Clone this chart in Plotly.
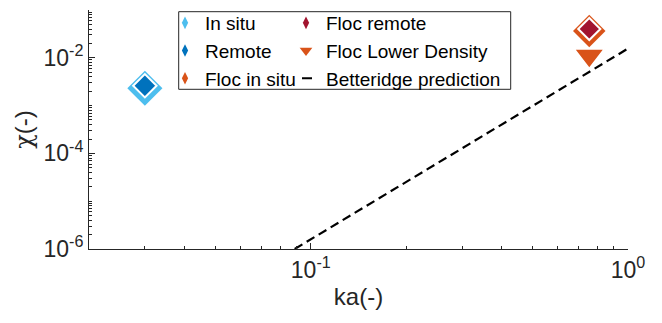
import plotly.graph_objects as go

# ---- data ----
ka_in_situ = [0.03]
chi_in_situ = [0.0023]
ka_remote = [0.03]
chi_remote = [0.0026]
ka_floc_in_situ = [0.755]
chi_floc_in_situ = [0.0365]
ka_floc_remote = [0.755]
chi_floc_remote = [0.040]
ka_floc_low = [0.755]
chi_floc_low = [0.0112]
ka_betteridge = [0.089, 1.0]
chi_betteridge = [1e-6, 0.0156]

x_tick_vals = [0.1, 1.0]
x_tick_text = ["10<sup>-1</sup>", "10<sup>0</sup>"]
y_tick_vals = [1e-6, 1e-4, 1e-2]
y_tick_text = ["10<sup>-6</sup>", "10<sup>-4</sup>", "10<sup>-2</sup>"]

C_LB = "#4DBEEE"
C_DB = "#0072BD"
C_OR = "#D95319"
C_RED = "#A2142F"
AX = "#262626"

fig = go.Figure()

# data traces
fig.add_trace(go.Scatter(x=ka_in_situ, y=chi_in_situ, mode="markers", showlegend=False,
                         marker=dict(symbol="diamond", size=27, color=C_LB, line=dict(width=0))))
fig.add_trace(go.Scatter(x=ka_remote, y=chi_remote, mode="markers", showlegend=False,
                         marker=dict(symbol="diamond", size=18, color=C_DB, line=dict(width=2, color="white"))))
fig.add_trace(go.Scatter(x=ka_floc_in_situ, y=chi_floc_in_situ, mode="markers", showlegend=False,
                         marker=dict(symbol="diamond", size=25, color=C_OR, line=dict(width=0))))
fig.add_trace(go.Scatter(x=ka_floc_remote, y=chi_floc_remote, mode="markers", showlegend=False,
                         marker=dict(symbol="diamond", size=17, color=C_RED, line=dict(width=2, color="white"))))
fig.add_trace(go.Scatter(x=ka_floc_low, y=chi_floc_low, mode="markers", showlegend=False,
                         marker=dict(symbol="triangle-down", size=26, color=C_OR, line=dict(width=1.5, color="white"))))
fig.add_trace(go.Scatter(x=ka_betteridge, y=chi_betteridge, mode="lines", showlegend=False,
                         line=dict(color="black", width=2.2, dash="9px,5px")))

# legend entries
def leg(name, legend, **kw):
    fig.add_trace(go.Scatter(x=[None], y=[None], name=name, legend=legend, **kw))

leg("In situ", "legend", mode="markers", marker=dict(symbol="diamond-tall", size=9, color=C_LB))
leg("Remote", "legend", mode="markers", marker=dict(symbol="diamond-tall", size=9, color=C_DB))
leg("Floc in situ", "legend", mode="markers", marker=dict(symbol="diamond-tall", size=9, color=C_OR))
leg("Floc remote", "legend2", mode="markers", marker=dict(symbol="diamond-tall", size=9, color=C_RED))
leg("Floc Lower Density", "legend2", mode="markers", marker=dict(symbol="triangle-down", size=11, color=C_OR))
leg("Betteridge prediction", "legend2", mode="lines",
    line=dict(color="black", width=2.2, dash="0px,11px,10px,9px,5px,20px"))

# page body has an 8px margin: figure origin sits at (8, 8) in the window
OFF = 8
W, H = 662 - 2 * OFF, 323 - 2 * OFF
X0, X1, Y0, Y1 = 89, 628, 10, 249  # plot area in window pixels
L, R, T, B = X0 - OFF, (662 - OFF) - X1, Y0 - OFF, (323 - OFF) - Y1
pw, ph = X1 - X0, Y1 - Y0
def px(x):
    return (x - X0) / pw
def py(y):
    return (Y1 - y) / ph

legfont = dict(family="Liberation Sans, Arial, sans-serif", size=19, color="black")
fig.update_layout(
    width=W, height=H,
    margin=dict(l=L, r=R, t=T, b=B, autoexpand=False),
    paper_bgcolor="white", plot_bgcolor="white",
    font=dict(family="Liberation Sans, Arial, sans-serif", color=AX),
    legend=dict(x=px(165), y=py(4), xanchor="left", yanchor="top", font=legfont,
                bgcolor="rgba(0,0,0,0)", borderwidth=0, tracegroupgap=0, itemwidth=30),
    legend2=dict(x=px(286), y=py(4), xanchor="left", yanchor="top", font=legfont,
                 bgcolor="rgba(0,0,0,0)", borderwidth=0, tracegroupgap=0, itemwidth=30),
    shapes=[dict(type="rect", xref="paper", yref="paper",
                 x0=px(178.7), x1=px(510.7), y0=py(89.3), y1=py(11.7),
                 line=dict(color=AX, width=1), fillcolor="rgba(0,0,0,0)", layer="above")],
)

minor_x = [m * 10 ** e for e in (-2, -1) for m in range(1, 10) if not (m == 1 and e == -1)]
minor_y = [m * 10 ** e for e in range(-6, -1) for m in range(1, 10)]

fig.update_xaxes(type="log", range=[-1.69897, 0], showgrid=False, zeroline=False, automargin=False,
                 showline=True, linecolor=AX, linewidth=1, mirror=False,
                 ticks="inside", ticklen=6, tickcolor=AX, tickwidth=1,
                 tickvals=x_tick_vals, ticktext=x_tick_text,
                 tickfont=dict(size=23, color=AX),
                 minor=dict(tickvals=minor_x, ticks="inside", ticklen=3, tickcolor=AX, showgrid=False),
                 title=dict(text="ka(-)", font=dict(size=24, color=AX), standoff=6))
fig.update_yaxes(type="log", range=[-6, -1], showgrid=False, zeroline=False, automargin=False,
                 showline=True, linecolor=AX, linewidth=1, mirror=False,
                 ticks="inside", ticklen=6, tickcolor=AX, tickwidth=1,
                 tickvals=y_tick_vals, ticktext=y_tick_text,
                 tickfont=dict(size=23, color=AX),
                 minor=dict(tickvals=minor_y, ticks="inside", ticklen=3, tickcolor=AX, showgrid=False),
                 title=dict(text="<span style='font-family:DejaVu Serif'>χ</span>(-)",
                            font=dict(size=24, color=AX), standoff=4))

fig.write_html("out.html")
